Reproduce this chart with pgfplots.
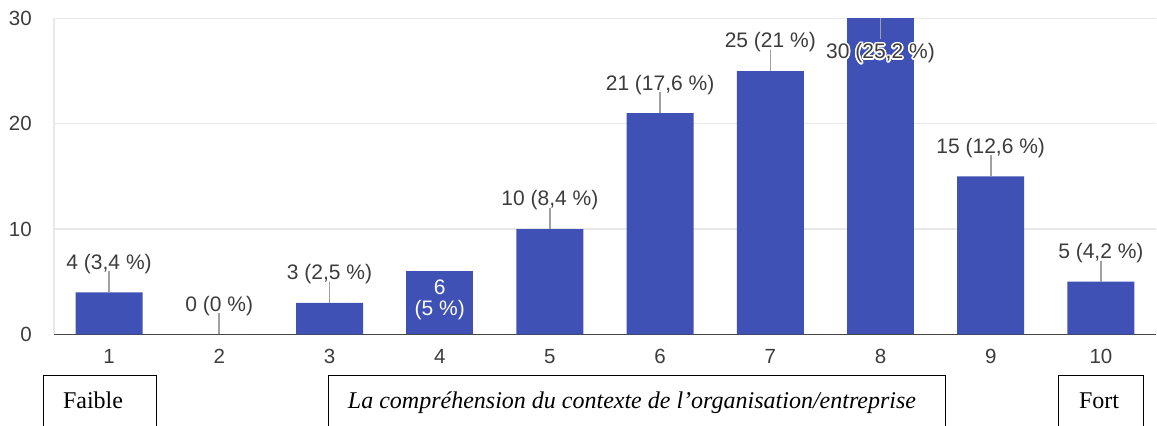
\documentclass[border=0pt]{standalone}
\usepackage{pgfplots}
\pgfplotsset{compat=1.18}
\usepackage{fontspec}
\setmainfont{Liberation Sans}
\newfontfamily\boxfont{Liberation Serif}
\usepackage{contour}
\contourlength{1.6bp}
\definecolor{barblue}{RGB}{63,81,181}
\definecolor{labelgray}{RGB}{60,60,60}
\definecolor{leadgray}{RGB}{160,160,160}
\definecolor{gridgray}{RGB}{232,232,232}
\definecolor{basegray}{RGB}{70,70,70}

\begin{document}
\begin{tikzpicture}[x=1bp,y=1bp]
\begin{axis}[
  at={(49,86)}, anchor=south west,
  scale only axis, width=1102bp, height=316bp,
  xmin=0.5, xmax=10.5, ymin=0, ymax=30,
  xtick={1,...,10}, ytick={0,10,20,30},
  axis x line*=bottom, axis y line*=left,
  x axis line style={basegray, line width=1.5bp},
  y axis line style={gridgray, line width=1.2bp},
  major tick length=0pt,
  ymajorgrids, grid style={gridgray, line width=1.2bp},
  tick label style={font=\fontsize{20.5bp}{24bp}\selectfont, text=labelgray, inner sep=0pt},
  /pgf/number format/assume math mode=true,
  yticklabel style={anchor=east, xshift=-22bp},
  xticklabel style={anchor=north, yshift=-15bp},
  clip=false,
]
% bars with label above
\addplot[ybar, bar width=67bp, bar shift=0pt, fill=barblue, draw=none,
  point meta=explicit symbolic, nodes near coords,
  every node near coord/.append style={anchor=south, yshift=18.6bp, inner sep=0pt,
    font=\fontsize{21bp}{24bp}\selectfont, text=labelgray},
  error bars/.cd, y dir=plus, y fixed=2, error mark=none,
  error bar style={leadgray, line width=1.6bp}]
coordinates {
  (1,4)  [{4 (3,4~\%)}]
  (2,0)  [{0 (0~\%)}]
  (3,3)  [{3 (2,5~\%)}]
  (5,10) [{10 (8,4~\%)}]
  (6,21) [{21 (17,6~\%)}]
  (7,25) [{25 (21~\%)}]
  (9,15) [{15 (12,6~\%)}]
  (10,5) [{5 (4,2~\%)}]
};
% bar 4, label inside
\addplot[ybar, bar width=67bp, bar shift=0pt, fill=barblue, draw=none,
  point meta=explicit symbolic, nodes near coords,
  every node near coord/.append style={anchor=south, yshift=-48.4bp, inner sep=0pt,
    align=center, font=\fontsize{21bp}{21bp}\selectfont, text=white}]
coordinates {
  (4,6) [{6\\(5~\%)}]
};
% bar 8, label below the top
\addplot[ybar, bar width=67bp, bar shift=0pt, fill=barblue, draw=none,
  point meta=explicit symbolic, nodes near coords,
  every node near coord/.append style={anchor=south, yshift=-46.4bp, inner sep=0pt,
    font=\fontsize{21bp}{24bp}\selectfont, text=labelgray},
  error bars/.cd, y dir=minus, y fixed=2, error mark=none,
  error bar style={leadgray, line width=1.6bp}]
coordinates {
  (8,30) [{\contour{white}{30 (25,2~\%)}}]
};
\end{axis}

% scale captions below the chart
\begin{scope}[line width=1bp]
  \draw (43,-10) rectangle (156,49.5);
  \draw (328,-10) rectangle (945,49.5);
  \draw (1058,-10) rectangle (1143,49.5);
\end{scope}
\node[anchor=base, inner sep=0pt, font=\boxfont\fontsize{24bp}{28bp}\selectfont] at (93,17) {Faible};
\node[anchor=base, inner sep=0pt, font=\boxfont\itshape\fontsize{24bp}{28bp}\selectfont] at (632,17)
  {La compréhension du contexte de l’organisation/entreprise};
\node[anchor=base, inner sep=0pt, font=\boxfont\fontsize{24bp}{28bp}\selectfont] at (1099,17) {Fort};

\pgfresetboundingbox
\useasboundingbox (0,0) rectangle (1157,425);
\end{tikzpicture}
\end{document}
